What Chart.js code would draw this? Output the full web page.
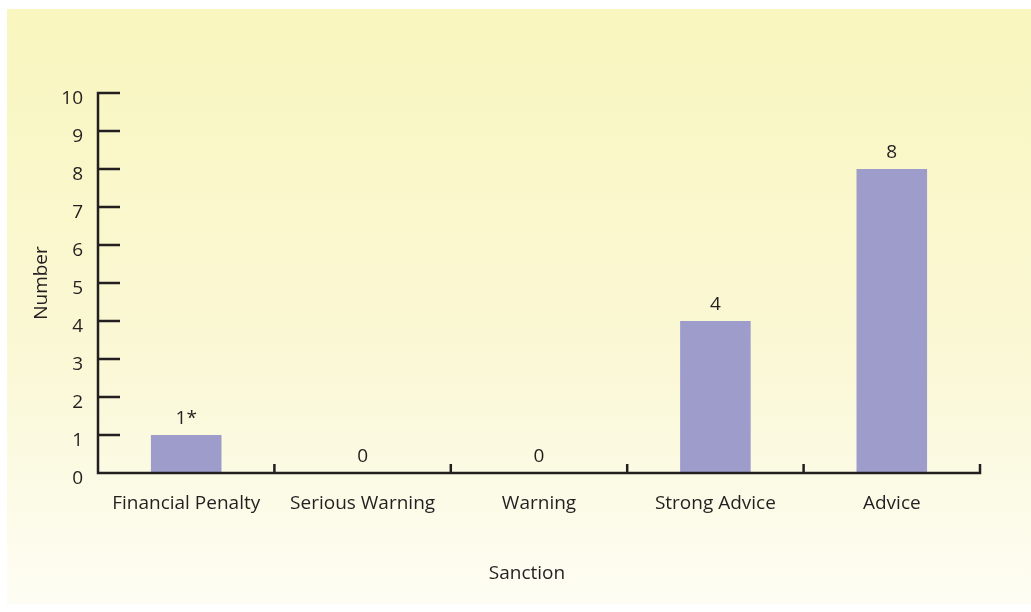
<!DOCTYPE html>
<html>
<head>
<meta charset="utf-8">
<script src="https://cdn.jsdelivr.net/npm/chart.js@4/dist/chart.umd.min.js"></script>
<style>
  html, body { margin: 0; padding: 0; background: #fff; }
  #wrap { width: 1031px; height: 612px; }
</style>
</head>
<body>
<div id="wrap"><canvas id="chart" width="1031" height="612"></canvas></div>
<script>
const categories = ["Financial Penalty", "Serious Warning", "Warning", "Strong Advice", "Advice"];
const values = [1, 0, 0, 4, 8];
const valueLabels = ["1*", "0", "0", "4", "8"];
const yTicks = [0, 1, 2, 3, 4, 5, 6, 7, 8, 9, 10];
const xTitle = "Sanction";
const yTitle = "Number";

const ink = "#231f20";
const font = "19px 'Open Sans', 'Noto Sans', sans-serif";

// background panel + axes + labels, all placed from the chart's scales
const decor = {
  id: "decor",
  beforeDraw(chart) {
    const c = chart.ctx;
    c.save();
    c.fillStyle = "#ffffff";
    c.fillRect(0, 0, chart.width, chart.height);
    const g = c.createLinearGradient(0, 9, 0, 604);
    g.addColorStop(0, "#f9f6bf");
    g.addColorStop(0.6, "#faf8d6");
    g.addColorStop(1, "#fefdf4");
    c.fillStyle = g;
    c.fillRect(7, 9, chart.width - 7, 595);
    c.restore();
  },
  afterDraw(chart) {
    const c = chart.ctx;
    const x = chart.scales.x, y = chart.scales.y;
    const a = chart.chartArea;
    c.save();
    c.strokeStyle = ink;
    c.lineWidth = 2.5;
    c.lineCap = "butt";

    // y axis with inward ticks
    c.beginPath();
    c.moveTo(a.left, y.getPixelForValue(10) - 1.25);
    c.lineTo(a.left, a.bottom + 1.25);
    yTicks.forEach(v => {
      const py = y.getPixelForValue(v);
      c.moveTo(a.left, py);
      c.lineTo(a.left + 22, py);
    });
    // x axis with upward ticks at category boundaries
    c.moveTo(a.left, a.bottom);
    c.lineTo(a.right, a.bottom);
    for (let i = 0; i < categories.length; i++) {
      const px = x.getPixelForValue(i + 0.5);
      c.moveTo(px, a.bottom + 1.25);
      c.lineTo(px, a.bottom - 9);
    }
    c.stroke();

    c.fillStyle = ink;
    c.font = font;
    c.textBaseline = "middle";

    // y tick labels
    c.textAlign = "right";
    yTicks.forEach(v => {
      c.fillText(String(v), a.left - 15, y.getPixelForValue(v) + 6);
    });

    // x category labels
    c.textAlign = "center";
    categories.forEach((cat, i) => {
      c.fillText(cat, x.getPixelForValue(i), a.bottom + 31);
    });

    // value labels above bars
    values.forEach((v, i) => {
      c.fillText(valueLabels[i], x.getPixelForValue(i), y.getPixelForValue(v) - 16);
    });

    // axis titles
    c.fillText(xTitle, 527, 574);
    c.save();
    c.translate(42, (a.top + a.bottom) / 2);
    c.rotate(-Math.PI / 2);
    c.fillText(yTitle, 0, 0);
    c.restore();

    c.restore();
  }
};

new Chart(document.getElementById("chart"), {
  type: "bar",
  data: {
    labels: categories,
    datasets: [{
      data: values,
      backgroundColor: "#9e9ccb",
      borderWidth: 0,
      barPercentage: 0.4,
      categoryPercentage: 1
    }]
  },
  options: {
    responsive: false,
    animation: false,
    events: [],
    layout: { padding: { left: 98, right: 51, top: 93, bottom: 139 } },
    plugins: { legend: { display: false }, tooltip: { enabled: false } },
    scales: {
      x: { display: false, offset: true },
      y: { display: false, min: 0, max: 10 }
    }
  },
  plugins: [decor]
});
</script>
</body>
</html>
